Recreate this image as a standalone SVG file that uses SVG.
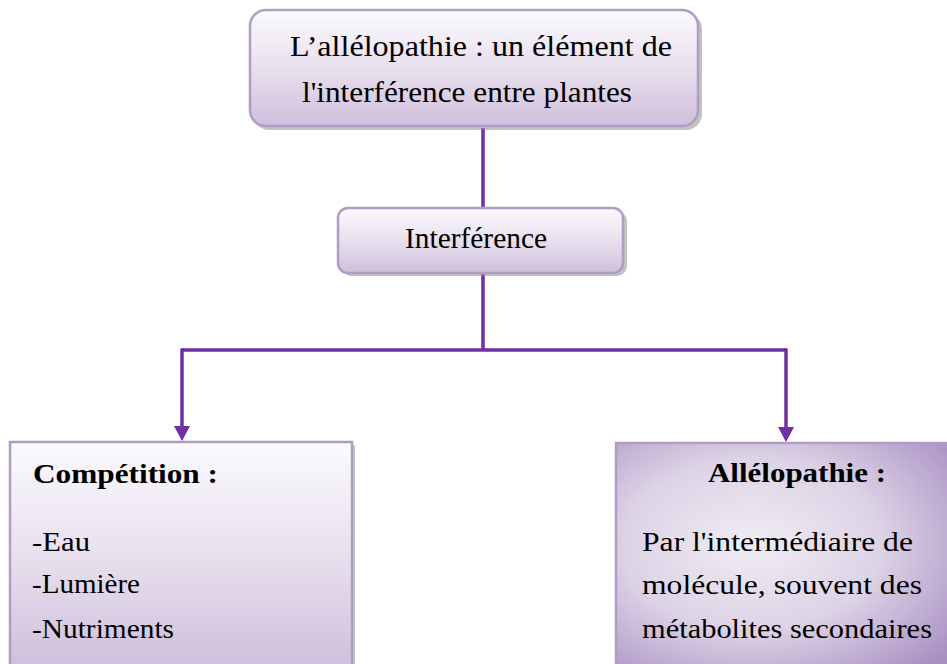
<svg xmlns="http://www.w3.org/2000/svg" width="947" height="664" viewBox="0 0 947 664">
<defs>
<linearGradient id="gLin" x1="0" y1="0" x2="0" y2="1">
<stop offset="0" stop-color="#fbfafd"/>
<stop offset="0.5" stop-color="#e8e0ee"/>
<stop offset="1" stop-color="#cfbfdc"/>
</linearGradient>
<radialGradient id="gRad" cx="0.4" cy="0.45" r="0.75">
<stop offset="0" stop-color="#efedf3"/>
<stop offset="0.5" stop-color="#ddd3e6"/>
<stop offset="1" stop-color="#a990c2"/>
</radialGradient>
<marker id="arr" markerWidth="16" markerHeight="15" refX="8" refY="0" orient="0" markerUnits="userSpaceOnUse">
<path d="M0,0 L16,0 L8,15 Z" fill="#7030a0"/>
</marker>
</defs>
<style>
.box{stroke:#b09dc6;stroke-width:2.5}
.shadow{fill:#8f8f8f;opacity:0.55}
.conn{fill:none;stroke:#7030a0;stroke-width:3.5}
text{font-family:"Liberation Serif","Times New Roman",serif;fill:#000}
.b{font-weight:bold}
</style>
<rect width="947" height="664" fill="#fff"/>
<g id="connectors">
<line class="conn" x1="483" y1="128" x2="483" y2="208"/>
<path class="conn" d="M483,274 V350 M182,350 H786"/>
<path class="conn" d="M182,348.3 V426" marker-end="url(#arr)"/>
<path class="conn" d="M786,348.3 V427" marker-end="url(#arr)"/>
</g>
<g id="node-top">
<rect class="shadow" x="253" y="13" width="449" height="117" rx="16"/>
<rect class="box" x="250" y="10" width="448" height="116" rx="16" fill="url(#gLin)"/>
<text x="290" y="56" font-size="29" textLength="382" lengthAdjust="spacingAndGlyphs">L’allélopathie  : un élément  de</text>
<text x="302" y="102" font-size="29" textLength="330" lengthAdjust="spacingAndGlyphs">l'interférence  entre  plantes</text>
</g>
<g id="node-interference">
<rect class="shadow" x="341" y="211" width="286" height="65" rx="10"/>
<rect class="box" x="338" y="208" width="285" height="65" rx="10" fill="url(#gLin)"/>
<text x="405" y="248" font-size="29" textLength="142" lengthAdjust="spacingAndGlyphs">Interférence</text>
</g>
<g id="node-competition">
<rect class="shadow" x="13" y="445" width="342" height="225"/>
<rect class="box" x="10" y="442" width="342" height="225" fill="url(#gLin)"/>
<text class="b" x="33" y="483" font-size="28" textLength="185" lengthAdjust="spacingAndGlyphs">Compétition  :</text>
<text x="32" y="551" font-size="27" textLength="58" lengthAdjust="spacingAndGlyphs">-Eau</text>
<text x="32" y="593" font-size="27" textLength="108" lengthAdjust="spacingAndGlyphs">-Lumière</text>
<text x="32" y="638" font-size="27" textLength="142" lengthAdjust="spacingAndGlyphs">-Nutriments</text>
</g>
<g id="node-allelopathie">
<rect class="box" x="616" y="443" width="340" height="225" fill="url(#gRad)"/>
<text class="b" x="708" y="482" font-size="28" textLength="178" lengthAdjust="spacingAndGlyphs">Allélopathie  :</text>
<text x="642" y="551" font-size="27" textLength="271" lengthAdjust="spacingAndGlyphs">Par l'intermédiaire  de</text>
<text x="642" y="594" font-size="27" textLength="280" lengthAdjust="spacingAndGlyphs">molécule,  souvent  des</text>
<text x="642" y="638" font-size="27" textLength="290" lengthAdjust="spacingAndGlyphs">métabolites  secondaires</text>
</g>
</svg>
